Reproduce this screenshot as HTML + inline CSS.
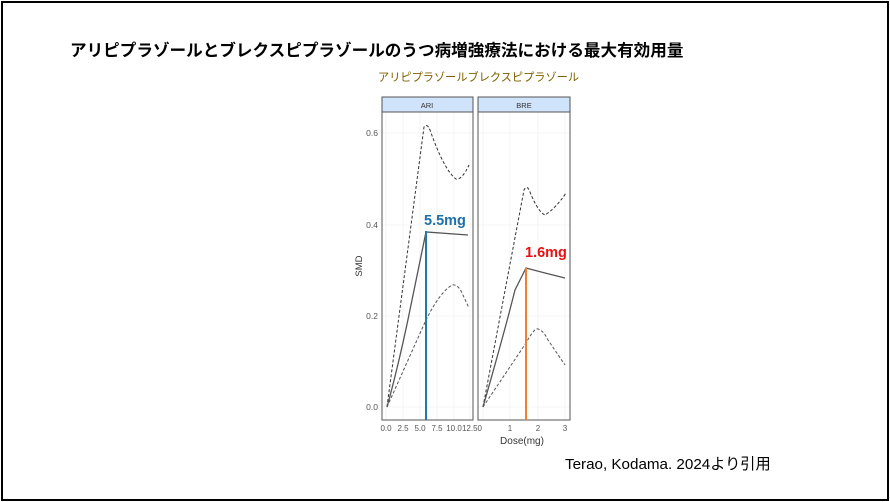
<!DOCTYPE html>
<html><head><meta charset="utf-8"><style>
html,body{margin:0;padding:0;background:#fff;}
.w{position:relative;width:890px;height:502px;overflow:hidden;font-family:"Liberation Sans","Noto Sans CJK JP",sans-serif;}
.b{position:absolute;left:1px;top:1px;width:884px;height:496px;border:2px solid #000;}
.t{position:absolute;left:70px;top:37px;font-size:16.6px;font-weight:bold;white-space:nowrap;color:#000;}
.s{position:absolute;left:378px;top:69px;font-size:11.2px;color:#7f6000;white-space:nowrap;}
.c{position:absolute;left:565px;top:452px;font-size:15.2px;white-space:nowrap;color:#000;}
svg{position:absolute;left:0;top:0;}
</style></head><body><div class="w">
<div class="b"></div>
<div class="t">アリピプラゾールとブレクスピプラゾールのうつ病増強療法における最大有効用量</div>
<div class="s">アリピプラゾールブレクスピプラゾール</div>
<svg width="890" height="502" font-family="Liberation Sans, sans-serif">
<g stroke="#ececec" stroke-width="0.6">
<line x1="382" x2="473" y1="407" y2="407"/><line x1="382" x2="473" y1="316" y2="316"/><line x1="382" x2="473" y1="225" y2="225"/><line x1="382" x2="473" y1="133" y2="133"/>
<line x1="478" x2="570" y1="407" y2="407"/><line x1="478" x2="570" y1="316" y2="316"/><line x1="478" x2="570" y1="225" y2="225"/><line x1="478" x2="570" y1="133" y2="133"/>
<line x1="386" x2="386" y1="112" y2="420"/><line x1="403" x2="403" y1="112" y2="420"/><line x1="420" x2="420" y1="112" y2="420"/><line x1="437" x2="437" y1="112" y2="420"/><line x1="454" x2="454" y1="112" y2="420"/><line x1="470" x2="470" y1="112" y2="420"/>
<line x1="483" x2="483" y1="112" y2="420"/><line x1="510" x2="510" y1="112" y2="420"/><line x1="538" x2="538" y1="112" y2="420"/><line x1="565" x2="565" y1="112" y2="420"/>
</g>
<rect x="382" y="97" width="91" height="15" fill="#cfe3fb" stroke="#555" stroke-width="1"/>
<rect x="478" y="97" width="92" height="15" fill="#cfe3fb" stroke="#555" stroke-width="1"/>
<rect x="382" y="112" width="91" height="308" fill="none" stroke="#555" stroke-width="1"/>
<rect x="478" y="112" width="92" height="308" fill="none" stroke="#555" stroke-width="1"/>
<text x="427" y="108" font-size="7.5" text-anchor="middle" fill="#333">ARI</text>
<text x="524" y="108" font-size="7.5" text-anchor="middle" fill="#333">BRE</text>
<g font-size="8.5" fill="#555" text-anchor="end">
<text x="378" y="410">0.0</text><text x="378" y="319">0.2</text><text x="378" y="228">0.4</text><text x="378" y="136">0.6</text>
</g>
<text transform="translate(362,266) rotate(-90)" font-size="9.5" fill="#333" text-anchor="middle">SMD</text>
<g font-size="8" fill="#555" text-anchor="middle">
<text x="386" y="431">0.0</text><text x="403" y="431">2.5</text><text x="420" y="431">5.0</text><text x="437" y="431">7.5</text><text x="454" y="431">10.0</text><text x="472" y="431">12.50</text>
<text x="510" y="431">1</text><text x="538" y="431">2</text><text x="565" y="431">3</text>
</g>
<text x="522" y="444" font-size="10" fill="#333" text-anchor="middle">Dose(mg)</text>
<g fill="none" stroke-width="1">
<path d="M387 407 L424 127 Q427 123 430 130 Q444 170 456 179 Q462 180 469 165" stroke="#333" stroke-dasharray="3,2"/>
<path d="M387 407 L426 320 Q440 292 452 285 Q458 284 462 293 L469 308" stroke="#555" stroke-dasharray="3,2"/>
<path d="M387 407 Q400 360 412 300 L426 232 L468 235" stroke="#555" stroke-width="1.3"/>
<path d="M483 407 L524 190 Q527 184 530 192 Q538 212 545 215 Q556 208 566 193" stroke="#333" stroke-dasharray="3,2"/>
<path d="M483 407 L526 343 Q532 332 536 329 Q542 328 548 340 L565 365" stroke="#555" stroke-dasharray="3,2"/>
<path d="M483 407 Q505 330 515 290 L526 268 L545 273 L565 278" stroke="#555" stroke-width="1.3"/>
</g>
<line x1="426" y1="231" x2="426" y2="420" stroke="#1f77b4" stroke-width="2"/>
<line x1="526" y1="268" x2="526" y2="420" stroke="#f08030" stroke-width="2"/>
<text x="424" y="225" font-size="14.5" font-weight="bold" fill="#1f6fa8">5.5mg</text>
<text x="525" y="257" font-size="14.5" font-weight="bold" fill="#e81010">1.6mg</text>
</svg>
<div class="c">Terao, Kodama. 2024より引用</div>
</div></body></html>
